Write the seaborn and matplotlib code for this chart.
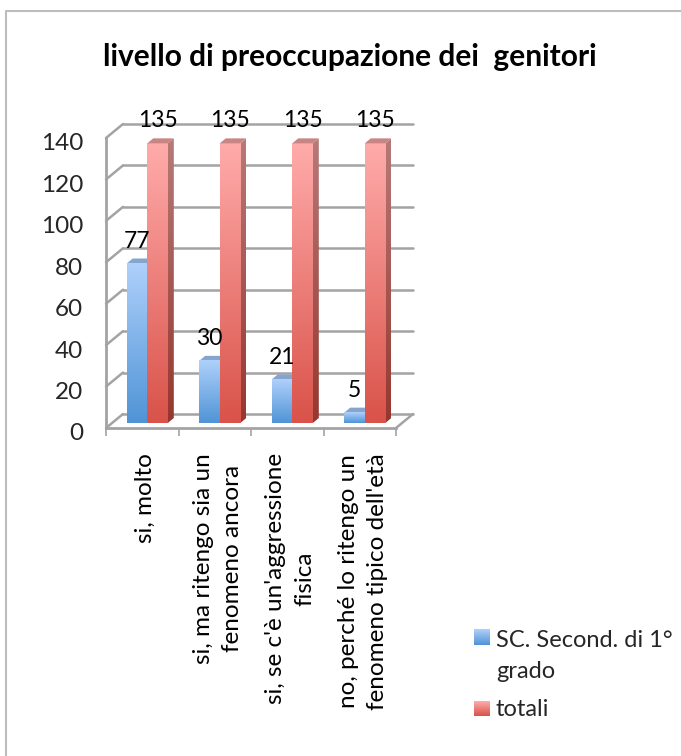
import numpy as np
import pandas as pd
import matplotlib
matplotlib.use("Agg")
import matplotlib.pyplot as plt
from matplotlib.colors import to_rgb
from matplotlib.patches import Polygon
from matplotlib.lines import Line2D
from matplotlib.transforms import ScaledTranslation
import seaborn as sns

categories = ["si, molto",
              "si, ma ritengo sia un\nfenomeno ancora",
              "si, se c'è un'aggressione\nfisica",
              "no, perché lo ritengo un\nfenomeno tipico dell'età"]
series_names = ["SC. Second. di 1°\ngrado", "totali"]
scuola = [77, 30, 21, 5]
totali = [135, 135, 135, 135]
y_ticks = [0, 20, 40, 60, 80, 100, 120, 140]
title = "livello di preoccupazione dei  genitori"

W, H = 681, 756
GRID = "#a3a3a3"
DX, DY = 17, 14  # depth of the fake 3d box, px
sns.set_style("white")
plt.rcParams["font.family"] = ["Lato", "DejaVu Sans"]


def box(left, top, right, bottom):
    return [left / W, 1 - bottom / H, (right - left) / W, (bottom - top) / H]


def ramp(top, bottom, n=64):
    c0, c1 = np.array(to_rgb(top)), np.array(to_rgb(bottom))
    return np.linspace(0, 1, n)[:, None, None] * (c1 - c0) + c0


fig = plt.figure(figsize=(W / 100, H / 100), dpi=100)
bg = fig.add_axes([0, 0, 1, 1])
bg.set_xlim(0, W)
bg.set_ylim(H, 0)
bg.axis("off")

# outer frame, only left and top are in the crop
bg.add_line(Line2D([6, 6, W], [H, 11, 11], color="#bdbdbd", lw=1.5))

# front plane carries the axis, bars sit a little further back
front = fig.add_axes(box(106, 138, 396, 428), zorder=1)
front.patch.set_alpha(0)
ax = fig.add_axes(box(111, 133, 401, 423), zorder=2)
ax.patch.set_alpha(0)

df = pd.DataFrame({"cat": categories * 2,
                   "serie": [series_names[0]] * 4 + [series_names[1]] * 4,
                   "val": scuola + totali})
sns.barplot(data=df, x="cat", y="val", hue="serie", ax=ax, width=0.567, gap=0,
            palette=["#6fa5e0", "#e8706a"], legend=False, saturation=1)
ax.set_xlim(-0.5, 3.5)
ax.set_ylim(0, 140)
ax.axis("off")

front.set_xlim(-0.5, 3.5)
front.set_ylim(0, 140)
for s in ["top", "right"]:
    front.spines[s].set_visible(False)
for s in ["left", "bottom"]:
    front.spines[s].set_color(GRID)
    front.spines[s].set_linewidth(2)
front.set_yticks(y_ticks)
front.set_yticklabels(y_ticks, fontsize=17.5)
front.tick_params(axis="y", length=6.5, width=1, color=GRID, pad=10)
front.set_xticks(np.arange(-0.5, 4, 1))
front.set_xticklabels([])
front.tick_params(axis="x", length=6, width=1.2, color=GRID, bottom=True)
shift = ScaledTranslation(0, -4 / 100, fig.dpi_scale_trans)
for lbl in front.get_yticklabels():
    lbl.set_transform(lbl.get_transform() + shift)

# back wall, side wall and floor
to_px = front.transData + bg.transData.inverted()
for v in y_ticks:
    x0, y0 = to_px.transform((-0.5, v))
    x1, _ = to_px.transform((3.5, v))
    bg.plot([x0, x0 + DX], [y0, y0 - DY], color=GRID, lw=1.8, solid_capstyle="round")
    bg.plot([x0 + DX, x1 + DX], [y0 - DY, y0 - DY], color=GRID, lw=1.8)
x0, y0 = to_px.transform((3.5, 0))
bg.plot([x0, x0 + DX], [y0, y0 - DY], color=GRID, lw=1.8)

# gradient faces on the seaborn bars
faces = [("#aed0fb", "#5094d6"), ("#ffabaa", "#d9534a")]
to_bg = ax.transData + bg.transData.inverted()
bars = [p for p in ax.patches if p.get_height() > 0]
values = scuola + totali
for i, p in enumerate(bars):
    b = p.get_bbox()
    (l, bot), (r, t) = to_bg.transform([(b.x0, b.y0), (b.x1, b.y1)])
    p.set_visible(False)
    bg.imshow(ramp(*faces[i // 4]), extent=(l, r, bot, t), aspect="auto", zorder=5,
              interpolation="bilinear")
    if i // 4 == 1:
        side = [(r, bot), (r, t), (r + 6, t - 5), (r + 6, bot - 5)]
        im = bg.imshow(ramp("#b67a78", "#95372f"), extent=(r, r + 6, bot, t - 5), aspect="auto",
                       zorder=4, interpolation="bilinear")
        im.set_clip_path(Polygon(side, transform=bg.transData))
        bg.add_patch(Polygon([(l, t), (r, t), (r + 6, t - 5), (l + 6, t - 5)],
                             color="#c98583", lw=0, zorder=5))
    else:
        bg.add_patch(Polygon([(l, t), (r, t), (r + 6, t - 5), (l + 6, t - 5)],
                             color="#85a5cf", lw=0, zorder=4))
    bg.text((l + r) / 2, t - 16, str(values[i]), ha="center", va="baseline", fontsize=16.5,
            color="black", zorder=6)

# rotated category labels
for k, c in enumerate(categories):
    xc, _ = to_px.transform((k, 0))
    bg.text(xc + 3, 453, c, rotation=90, ha="center", va="top", fontsize=17.5,
            linespacing=1.45, multialignment="center", color="black")

bg.text(350, 57, title, ha="center", va="center", fontsize=21.5, fontweight="bold", color="black")

# legend
bg.imshow(ramp(*faces[0], 32), extent=(474, 490, 645, 629), aspect="auto", interpolation="bilinear")
bg.imshow(ramp(*faces[1], 32), extent=(474, 490, 716, 701), aspect="auto", interpolation="bilinear")
bg.text(496, 656, series_names[0], ha="left", va="center", fontsize=17, linespacing=1.6)
bg.text(496, 710, series_names[1], ha="left", va="center", fontsize=17)
bg.set_xlim(0, W)
bg.set_ylim(H, 0)

fig.savefig("out.png", dpi=100)
